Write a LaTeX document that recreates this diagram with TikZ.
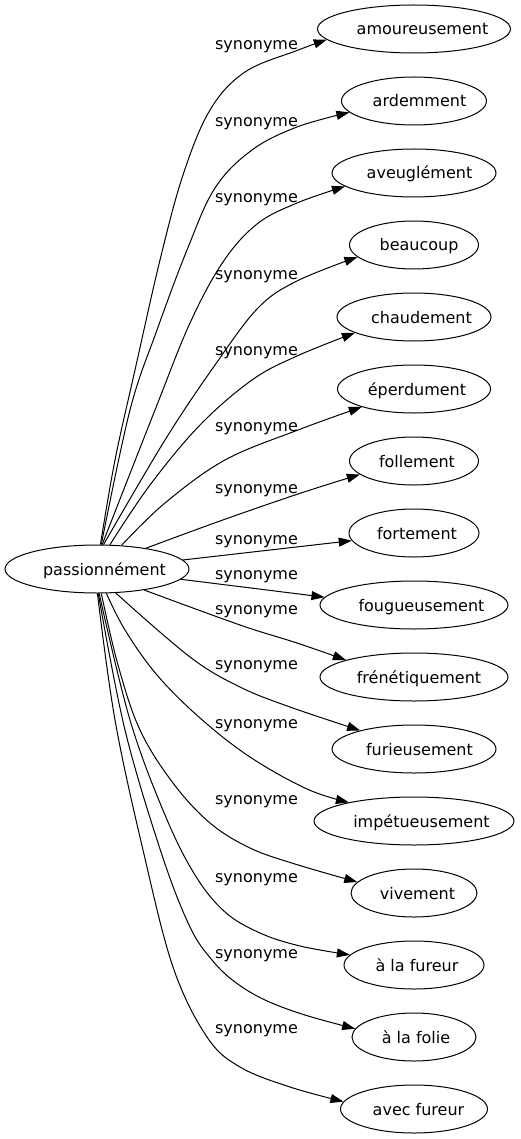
\documentclass[tikz,border=0pt]{standalone}
\usepackage{fontspec}
\setmainfont{DejaVu Sans}
\usetikzlibrary{shapes.geometric,arrows.meta}
\newcommand\shtxt[2]{\makebox[0pt]{\hspace*{#1pt}#2}}
\begin{document}
\begin{tikzpicture}[x=1pt,y=-1pt,font=\fontsize{16}{19}\selectfont,
  ell/.style={ellipse,draw,line width=1pt,inner sep=0pt,minimum height=48pt,text height=14pt,text depth=2pt},
  lab/.style={inner sep=0pt,text height=14pt,text depth=2pt},
  syn/.style={line width=1pt,-{Triangle[length=13pt,width=9pt]}},
  cv/.style={smooth,tension=0.6}]
\useasboundingbox (0,0) rectangle (520,1139);
% nodes
\node[ell,minimum width=184pt] (src) at (97,569) {\shtxt{15}{passionnément}};
\node[ell,minimum width=193pt] (t1) at (414,29) {\shtxt{17}{amoureusement}};
\node[ell,minimum width=145pt] (t2) at (414,101) {\shtxt{11}{ardemment}};
\node[ell,minimum width=164pt] (t3) at (414,173) {\shtxt{11}{aveuglément}};
\node[ell,minimum width=129pt] (t4) at (414,245) {\shtxt{10}{beaucoup}};
\node[ell,minimum width=154pt] (t5) at (414,317) {\shtxt{15}{chaudement}};
\node[ell,minimum width=153pt] (t6) at (414,389) {\shtxt{6}{éperdument}};
\node[ell,minimum width=129pt] (t7) at (414,461) {\shtxt{6}{follement}};
\node[ell,minimum width=130pt] (t8) at (414,533) {\shtxt{6}{fortement}};
\node[ell,minimum width=188pt] (t9) at (414,605) {\shtxt{15}{fougueusement}};
\node[ell,minimum width=188pt] (t10) at (414,677) {\shtxt{10}{frénétiquement}};
\node[ell,minimum width=164pt] (t11) at (414,749) {\shtxt{11}{furieusement}};
\node[ell,minimum width=200pt] (t12) at (414,821) {\shtxt{15}{impétueusement}};
\node[ell,minimum width=126pt] (t13) at (414,893) {\shtxt{7}{vivement}};
\node[ell,minimum width=140pt] (t14) at (414,965) {\shtxt{6}{à la fureur}};
\node[ell,minimum width=124pt] (t15) at (414,1037) {\shtxt{4}{à la folie}};
\node[ell,minimum width=147pt] (t16) at (414,1109) {\shtxt{9}{avec fureur}};
% labels
\node[lab] (l1) at (256.5,44) {synonyme};
\node[lab] (l2) at (256.5,120.5) {synonyme};
\node[lab] (l3) at (256.5,196.5) {synonyme};
\node[lab] (l4) at (256.5,273.5) {synonyme};
\node[lab] (l5) at (256.5,349.5) {synonyme};
\node[lab] (l6) at (256.5,425.5) {synonyme};
\node[lab] (l7) at (256.5,487.5) {synonyme};
\node[lab] (l8) at (256.5,538.5) {synonyme};
\node[lab] (l9) at (256.5,573.5) {synonyme};
\node[lab] (l10) at (256.5,608.5) {synonyme};
\node[lab] (l11) at (256.5,663) {synonyme};
\node[lab] (l12) at (256.5,722.5) {synonyme};
\node[lab] (l13) at (256.5,798.5) {synonyme};
\node[lab] (l14) at (256.5,876) {synonyme};
\node[lab] (l15) at (256.5,952.5) {synonyme};
\node[lab] (l16) at (256.5,1027.5) {synonyme};
% edges
\draw[syn] plot[cv] coordinates {(src.82) (115,460) (135,370) (160,260) (183,175) (210,110) (245,72) (297,50.5) (t1.187)};
\draw[syn] plot[cv] coordinates {(src.80) (130,410) (157,330) (187,250) (215,188) (252,150) (297,127) (t2.190)};
\draw[syn] plot[cv] coordinates {(src.78) (155,410) (190,323) (223,262) (257,224) (297,203) (t3.191)};
\draw[syn] plot[cv] coordinates {(src.75) (165,440) (215,365) (258,308) (297,281) (t4.192)};
\draw[syn] plot[cv] coordinates {(src.62) (150,485) (200,425) (252,380) (297,356) (t5.195)};
\draw[syn] plot[cv] coordinates {(src.44) (165,503) (225,460) (298,430) (t6.199)};
\draw[syn] plot[cv] coordinates {(src.23) (220,521) (298,494) (t7.194)};
\draw[syn] (src.6) -- (t8.187);
\draw[syn] (src.-7) -- (t9.175);
\draw[syn] plot[cv] coordinates {(src.-24) (240,625) (297,643) (t10.166)};
\draw[syn] plot[cv] coordinates {(src.-52) (190,657) (240,687) (290,707) (t11.161)};
\draw[syn] plot[cv] coordinates {(src.-69) (125,630) (157,675) (200,718) (250,757) (307,789) (t12.164)};
\draw[syn] plot[cv] coordinates {(src.-80) (118,665) (140,730) (173,783) (210,823) (250,848) (295,864) (t13.169)};
\draw[syn] plot[cv] coordinates {(src.-85) (130,720) (165,815) (195,875) (225,912) (260,933) (300,946) (t14.171)};
\draw[syn] plot[cv] coordinates {(src.-87) (125,730) (162,855) (190,927) (212,960) (235,982) (265,1000) (305,1015) (t15.172)};
\draw[syn] plot[cv] coordinates {(src.-89) (115,720) (143,850) (173,967) (207,1037) (240,1067) (290,1087) (t16.174)};
\end{tikzpicture}
\end{document}
